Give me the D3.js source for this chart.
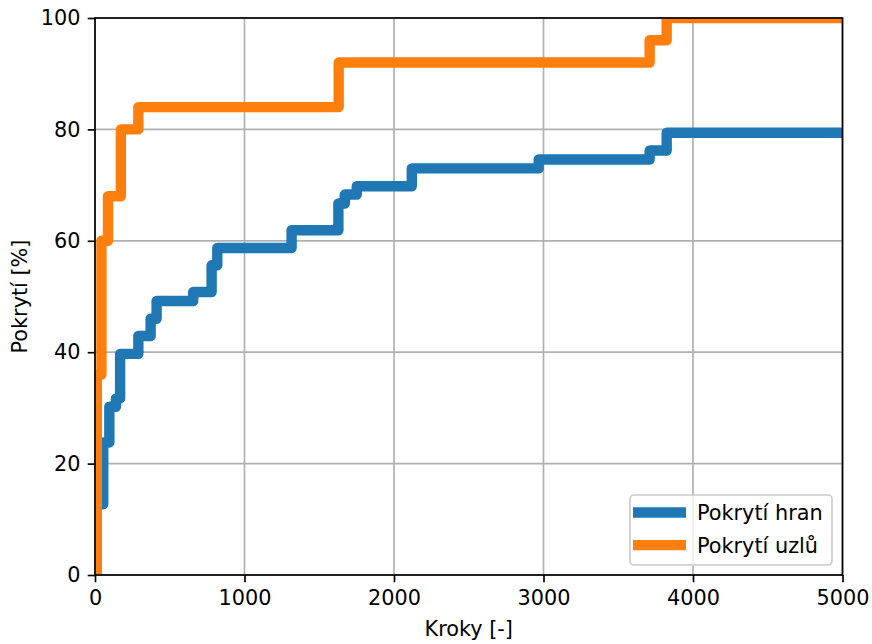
<!DOCTYPE html>
<html>
<head>
<meta charset="utf-8">
<script src="https://cdn.jsdelivr.net/npm/d3@7"></script>
<style>
  body { margin: 0; background: #fff; }
  svg text { font-family: "DejaVu Sans", sans-serif; }
</style>
</head>
<body>
<div id="chart"></div>
<script>
// kroky a pokryti (v %)
var krokyHran = [0, 10, 55, 96, 140, 168, 290, 372, 412, 657, 780, 818, 1315, 1628, 1671, 1751, 2119, 2968, 3710, 3824, 5000];
var pokrytiHran = [0, 12.7, 23.8, 30.2, 31.7, 39.7, 42.9, 46.0, 49.2, 50.8, 55.6, 58.7, 61.9, 66.7, 68.3, 69.8, 73.0, 74.6, 76.2, 79.4, 79.4];
var krokyUzlu = [0, 12, 43, 87, 173, 290, 1630, 3710, 3824, 5000];
var pokrytiUzlu = [0, 36, 60, 68, 80, 84, 92, 96, 100, 100];
var xTicks = [0, 1000, 2000, 3000, 4000, 5000];
var yTicks = [0, 20, 40, 60, 80, 100];
var nazvy = ["Pokrytí hran", "Pokrytí uzlů"];
var barvy = ["#1f77b4", "#ff7f0e"];

var w = 872, h = 644;
var x0 = 95, x1 = 842.5, y0 = 575, y1 = 18;
var fs = 20.8;

var svg = d3.select("#chart").append("svg")
	.attr("width", w)
	.attr("height", h);

var x = d3.scaleLinear().domain([0, 5000]).range([x0, x1]);
var y = d3.scaleLinear().domain([0, 100]).range([y0, y1]);

svg.append("defs").append("clipPath")
	.attr("id", "clip")
	.append("rect")
	.attr("x", x0).attr("y", y1)
	.attr("width", x1 - x0).attr("height", y0 - y1);

// mrizka
svg.selectAll("line.gx").data(xTicks).enter().append("line")
	.attr("x1", function(d) { return x(d); })
	.attr("x2", function(d) { return x(d); })
	.attr("y1", y1).attr("y2", y0)
	.attr("stroke", "#b0b0b0").attr("stroke-width", 1.67);
svg.selectAll("line.gy").data(yTicks).enter().append("line")
	.attr("y1", function(d) { return y(d); })
	.attr("y2", function(d) { return y(d); })
	.attr("x1", x0).attr("x2", x1)
	.attr("stroke", "#b0b0b0").attr("stroke-width", 1.67);

var line = d3.line()
	.x(function(d) { return x(d[0]); })
	.y(function(d) { return y(d[1]); })
	.curve(d3.curveStepAfter);

var serie = [d3.zip(krokyHran, pokrytiHran), d3.zip(krokyUzlu, pokrytiUzlu)];

svg.append("g").attr("clip-path", "url(#clip)")
	.selectAll("path").data(serie).enter().append("path")
	.attr("d", line)
	.attr("fill", "none")
	.attr("stroke", function(d, i) { return barvy[i]; })
	.attr("stroke-width", 10.4)
	.attr("stroke-linejoin", "round")
	.attr("stroke-linecap", "square");

// osy
var xAxis = svg.append("g")
	.attr("transform", "translate(0," + y0 + ")")
	.call(d3.axisBottom(x).tickValues(xTicks).tickSize(7.3).tickPadding(7.3).tickFormat(d3.format("d")));
var yAxis = svg.append("g")
	.attr("transform", "translate(" + x0 + ",0)")
	.call(d3.axisLeft(y).tickValues(yTicks).tickSize(7.3).tickPadding(7.3).tickFormat(d3.format("d")));
[xAxis, yAxis].forEach(function(a) {
	a.select(".domain").remove();
	a.selectAll(".tick line").attr("stroke", "#000").attr("stroke-width", 1.67);
	a.selectAll(".tick text").attr("fill", "#000").style("font-size", fs + "px");
});
xAxis.selectAll(".tick text").attr("dy", "0.74em");

svg.append("rect")
	.attr("x", x0).attr("y", y1)
	.attr("width", x1 - x0).attr("height", y0 - y1)
	.attr("fill", "none").attr("stroke", "#000").attr("stroke-width", 1.67);

svg.append("text")
	.attr("x", (x0 + x1) / 2).attr("y", 636)
	.attr("text-anchor", "middle")
	.style("font-size", fs + "px")
	.text("Kroky [-]");
svg.append("text")
	.attr("transform", "translate(27," + ((y0 + y1) / 2) + ") rotate(-90)")
	.attr("text-anchor", "middle")
	.style("font-size", fs + "px")
	.text("Pokrytí [%]");

// legenda
var lg = svg.append("g");
lg.append("rect")
	.attr("x", 630).attr("y", 495)
	.attr("width", 202).attr("height", 70)
	.attr("rx", 4).attr("ry", 4)
	.attr("fill", "#fff").attr("fill-opacity", 0.8)
	.attr("stroke", "#cccccc").attr("stroke-width", 1.67);
nazvy.forEach(function(n, i) {
	var cy = 512.5 + i * 32.6;
	lg.append("line")
		.attr("x1", 638.2).attr("x2", 680.8)
		.attr("y1", cy).attr("y2", cy)
		.attr("stroke", barvy[i]).attr("stroke-width", 10.4)
		.attr("stroke-linecap", "square");
	lg.append("text")
		.attr("x", 697).attr("y", cy + 7.6)
		.style("font-size", fs + "px")
		.text(n);
});
</script>
</body>
</html>
